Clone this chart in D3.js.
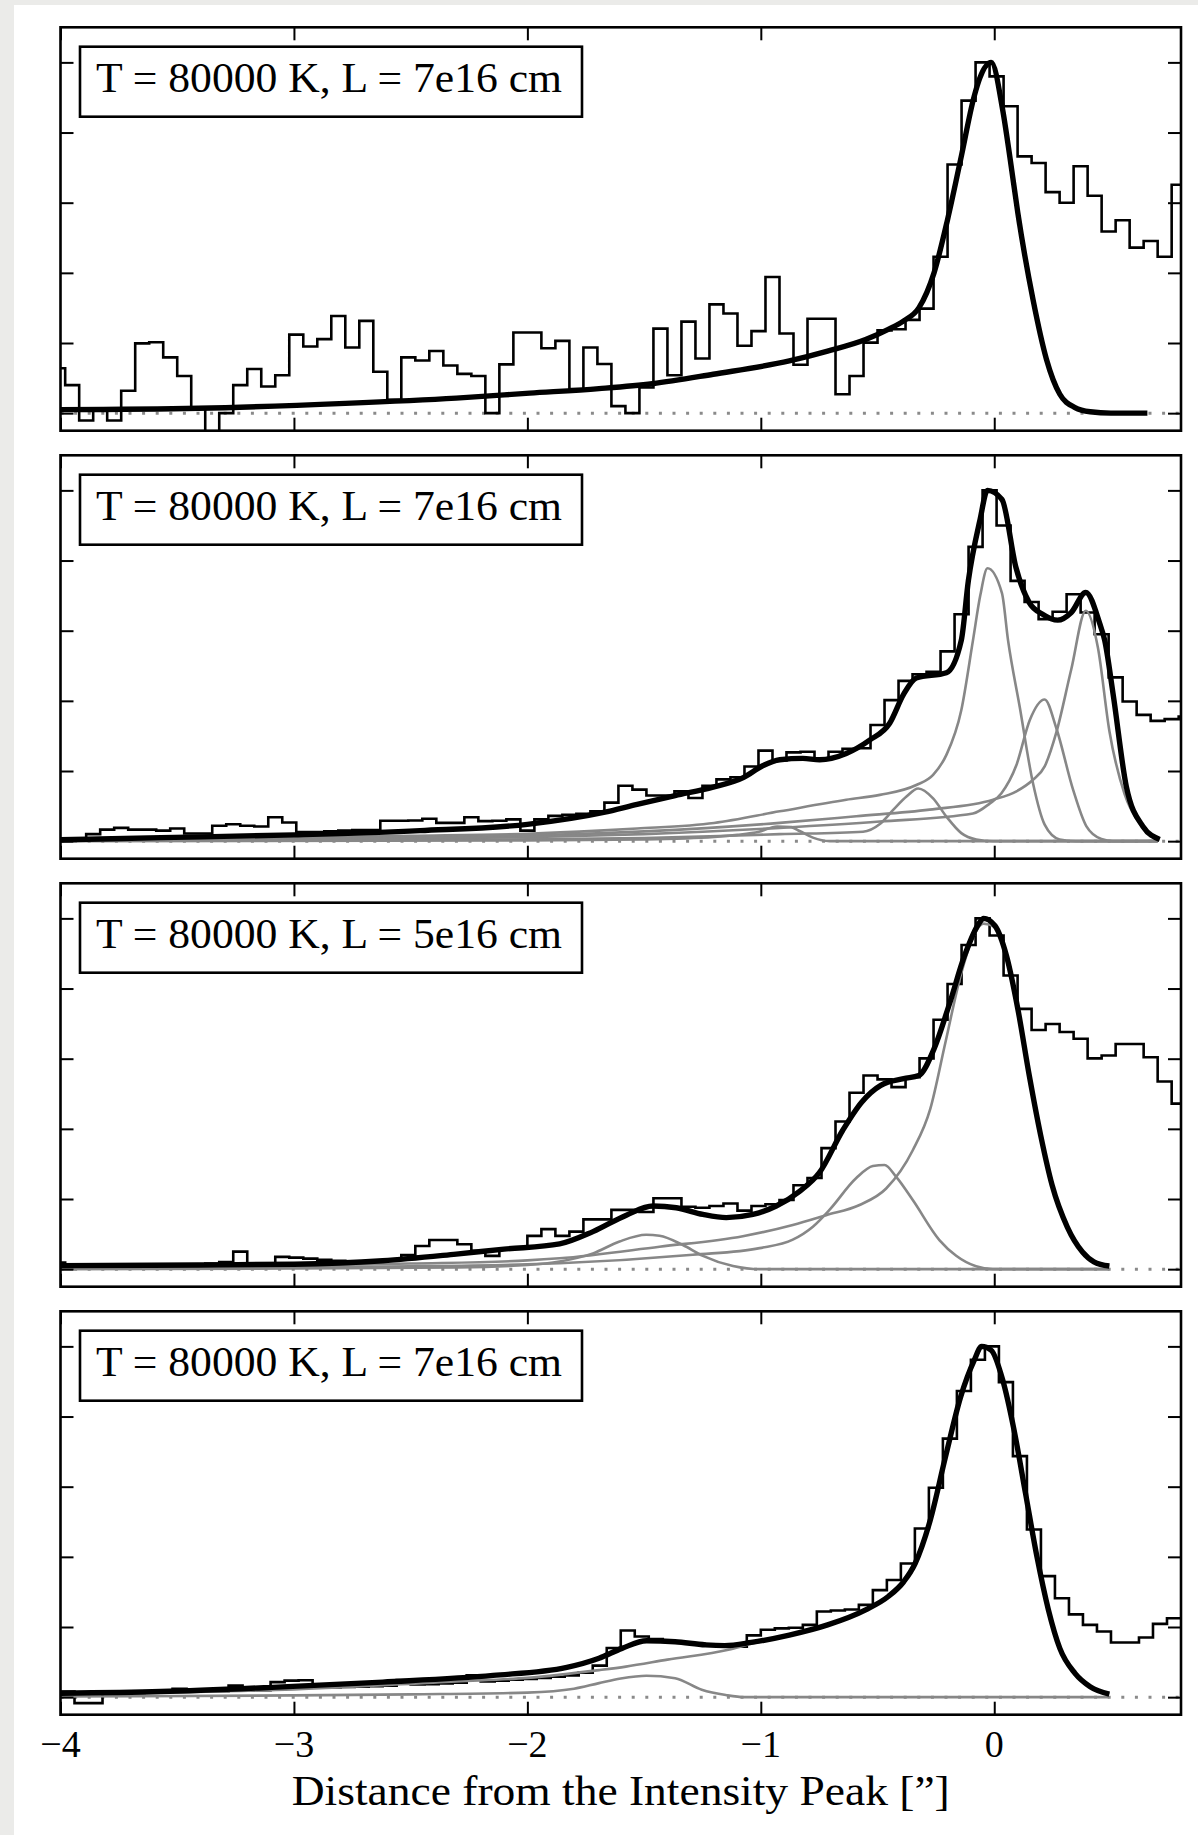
<!DOCTYPE html>
<html>
<head>
<meta charset="utf-8">
<script src="https://cdn.jsdelivr.net/npm/d3@7"></script>
<style>
  html, body { margin: 0; padding: 0; background: #ebebe9; }
  svg { display: block; }
</style>
</head>
<body>
<svg id="fig" width="1198" height="1835"></svg>
<script>
// ---- axis ticks and labels ----
const xTicks = [-4, -3, -2, -1, 0];
const yTicks = [0, 0.2, 0.4, 0.6, 0.8, 1.0];
const panelLabels = [
  "T = 80000 K, L = 7e16 cm",
  "T = 80000 K, L = 7e16 cm",
  "T = 80000 K, L = 5e16 cm",
  "T = 80000 K, L = 7e16 cm"
];
const xLabel = "Distance from the Intensity Peak [\u201d]";

// ---- observed profiles: normalised intensity per 0.06" bin ----
const binWidth = 0.06;
const histStart = [-4.04, -4.01, -4.04, -4.00];

const hist1 = [
  0.128, 0.08, -0.021, 0.014, -0.021, 0.064, 0.199, 0.202, 0.159, 0.106,
  0.014, -0.08, 0.0, 0.08, 0.126, 0.076, 0.108, 0.224, 0.19, 0.211,
  0.277, 0.187, 0.263, 0.118, 0.038, 0.159, 0.150, 0.177, 0.136, 0.112,
  0.106, 0.0, 0.139, 0.230, 0.230, 0.185, 0.206, 0.069, 0.187, 0.14,
  0.02, 0.0, 0.073, 0.241, 0.108, 0.261, 0.156, 0.310, 0.284, 0.192,
  0.234, 0.388, 0.227, 0.138, 0.269, 0.269, 0.054, 0.106, 0.201, 0.236,
  0.239, 0.266, 0.298, 0.446, 0.709, 0.891, 1.0, 0.96, 0.875, 0.732,
  0.713, 0.63, 0.60, 0.704, 0.62, 0.518, 0.55, 0.472, 0.491, 0.446,
  0.651
];

const hist2 = [
  0.005, 0.003, 0.02, 0.033, 0.038, 0.033, 0.033, 0.03, 0.036, 0.022,
  0.022, 0.044, 0.048, 0.044, 0.042, 0.068, 0.053, 0.026, 0.026, 0.028,
  0.03, 0.032, 0.032, 0.058, 0.058, 0.059, 0.064, 0.052, 0.052, 0.068,
  0.057, 0.058, 0.062, 0.03, 0.062, 0.072, 0.075, 0.078, 0.085, 0.11,
  0.158, 0.147, 0.13, 0.13, 0.142, 0.123, 0.158, 0.176, 0.182, 0.213,
  0.258, 0.23, 0.253, 0.255, 0.234, 0.255, 0.263, 0.265, 0.331, 0.402,
  0.457, 0.476, 0.483, 0.541, 0.647, 0.839, 1.0, 0.90, 0.742, 0.682,
  0.633, 0.654, 0.704, 0.652, 0.59, 0.467, 0.398, 0.360, 0.343, 0.348,
  0.355
];

const hist3 = [
  0.019, 0.012, 0.014, 0.01, 0.011, 0.011, 0.011, 0.011, 0.012, 0.012,
  0.014, 0.016, 0.02, 0.05, 0.014, 0.014, 0.035, 0.033, 0.03, 0.027,
  0.024, 0.022, 0.022, 0.025, 0.028, 0.04, 0.066, 0.083, 0.083, 0.071,
  0.052, 0.038, 0.057, 0.062, 0.095, 0.114, 0.095, 0.107, 0.142, 0.142,
  0.169, 0.169, 0.163, 0.202, 0.202, 0.178, 0.175, 0.18, 0.187, 0.167,
  0.18, 0.185, 0.197, 0.239, 0.26, 0.345, 0.421, 0.503, 0.552, 0.541,
  0.519, 0.547, 0.601, 0.711, 0.813, 0.924, 1.0, 0.951, 0.837, 0.742,
  0.682, 0.699, 0.676, 0.657, 0.601, 0.609, 0.642, 0.642, 0.604, 0.535,
  0.472
];

const hist4 = [
  0.016, -0.017, -0.017, 0.01, 0.011, 0.012, 0.013, 0.014, 0.024, 0.016,
  0.017, 0.017, 0.033, 0.019, 0.02, 0.043, 0.047, 0.048, 0.03, 0.028,
  0.029, 0.03, 0.031, 0.033, 0.049, 0.036, 0.037, 0.039, 0.041, 0.062,
  0.045, 0.047, 0.05, 0.052, 0.055, 0.058, 0.062, 0.07, 0.09, 0.14,
  0.19, 0.173, 0.166, 0.158, 0.155, 0.152, 0.15, 0.146, 0.144, 0.176,
  0.192, 0.196, 0.198, 0.206, 0.244, 0.247, 0.25, 0.263, 0.305, 0.334,
  0.381, 0.481, 0.597, 0.737, 0.873, 0.962, 1.0, 0.898, 0.687, 0.478,
  0.345, 0.282, 0.236, 0.206, 0.187, 0.156, 0.156, 0.17, 0.209, 0.225
];

// ---- total model (x in arcsec, normalised intensity) ----
const fit1 = [
  [-4.0, 0.01], [-3.41, 0.014], [-2.78, 0.028], [-2.305, 0.043], [-1.99, 0.057],
  [-1.693, 0.07], [-1.465, 0.084], [-1.204, 0.111], [-0.878, 0.149], [-0.714, 0.177],
  [-0.551, 0.21], [-0.454, 0.239], [-0.388, 0.263], [-0.323, 0.30], [-0.258, 0.40],
  [-0.2, 0.552], [-0.144, 0.723], [-0.086, 0.903], [-0.062, 0.955], [-0.013, 1.0],
  [0.036, 0.865], [0.0685, 0.723], [0.101, 0.571], [0.166, 0.324], [0.2235, 0.154],
  [0.281, 0.054], [0.346, 0.016], [0.411, 0.004], [0.5, 0.0], [0.656, 0.0]
];

const fit2 = [
  [-4.0, 0.004], [-3.57, 0.01], [-3.0, 0.018], [-2.46, 0.03], [-2.0, 0.048],
  [-1.673, 0.082], [-1.53, 0.105], [-1.367, 0.13], [-1.204, 0.154], [-1.073, 0.182],
  [-0.992, 0.215], [-0.919, 0.232], [-0.82, 0.236], [-0.748, 0.232], [-0.634, 0.25],
  [-0.534, 0.288], [-0.448, 0.336], [-0.388, 0.419], [-0.334, 0.465], [-0.205, 0.48],
  [-0.141, 0.573], [-0.111, 0.742], [-0.062, 0.913], [-0.029, 1.0], [0.033, 0.974],
  [0.093, 0.78], [0.15, 0.68], [0.207, 0.647], [0.272, 0.63], [0.33, 0.652],
  [0.392, 0.709], [0.452, 0.62], [0.473, 0.573], [0.509, 0.42], [0.566, 0.155],
  [0.637, 0.042], [0.709, 0.005]
];

const fit3 = [
  [-4.0, 0.01], [-3.41, 0.012], [-3.0, 0.014], [-2.62, 0.024], [-2.305, 0.043],
  [-2.1, 0.057], [-1.862, 0.072], [-1.719, 0.107], [-1.576, 0.154], [-1.462, 0.18],
  [-1.362, 0.175], [-1.248, 0.156], [-1.148, 0.147], [-1.034, 0.156], [-0.934, 0.18],
  [-0.834, 0.222], [-0.749, 0.275], [-0.649, 0.396], [-0.568, 0.476], [-0.486, 0.524],
  [-0.388, 0.543], [-0.323, 0.552], [-0.258, 0.628], [-0.192, 0.756], [-0.127, 0.894],
  [-0.062, 0.989], [-0.046, 1.0], [0.003, 0.979], [0.052, 0.894], [0.101, 0.742],
  [0.15, 0.552], [0.199, 0.381], [0.248, 0.239], [0.313, 0.12], [0.378, 0.049],
  [0.427, 0.021], [0.493, 0.009]
];

const fit4 = [
  [-4.0, 0.011], [-3.57, 0.016], [-3.095, 0.028], [-2.62, 0.043], [-2.147, 0.062],
  [-1.831, 0.085], [-1.693, 0.111], [-1.595, 0.139], [-1.489, 0.161], [-1.367, 0.158],
  [-1.237, 0.149], [-1.155, 0.147], [-1.041, 0.156], [-0.878, 0.177], [-0.714, 0.206],
  [-0.551, 0.249], [-0.454, 0.287], [-0.388, 0.329], [-0.339, 0.381], [-0.274, 0.505],
  [-0.209, 0.685], [-0.144, 0.856], [-0.086, 0.96], [-0.054, 1.0], [-0.013, 0.989],
  [0.036, 0.905], [0.085, 0.761], [0.134, 0.581], [0.183, 0.40], [0.232, 0.249],
  [0.281, 0.139], [0.346, 0.068], [0.411, 0.03], [0.493, 0.009]
];

// ---- individual knot components ----
const comp2a = [
  [-4.0, 0.004], [-3.0, 0.01], [-2.5, 0.015], [-2.0, 0.021], [-1.693, 0.03],
  [-1.53, 0.036], [-1.2, 0.052], [-0.919, 0.085], [-0.634, 0.118], [-0.49, 0.132],
  [-0.334, 0.16], [-0.262, 0.189], [-0.205, 0.246], [-0.141, 0.374], [-0.091, 0.573],
  [-0.06, 0.70], [-0.029, 0.778], [0.033, 0.707], [0.059, 0.573], [0.109, 0.383],
  [0.166, 0.165], [0.216, 0.047], [0.28, 0.005], [0.35, 0.0], [0.70, 0.0]
];
const comp2b = [
  [-4.0, 0.003], [-3.0, 0.008], [-2.0, 0.016], [-1.5, 0.028], [-0.919, 0.052],
  [-0.591, 0.071], [-0.277, 0.09], [-0.005, 0.118], [0.095, 0.142], [0.166, 0.175],
  [0.216, 0.213], [0.266, 0.31], [0.33, 0.49], [0.392, 0.657], [0.444, 0.552],
  [0.493, 0.315], [0.558, 0.135], [0.623, 0.05], [0.688, 0.007], [0.70, 0.0]
];
const comp2c = [
  [-4.0, 0.002], [-3.0, 0.005], [-2.0, 0.011], [-1.5, 0.02], [-0.919, 0.038],
  [-0.49, 0.056], [-0.091, 0.079], [-0.02, 0.107], [0.03, 0.136], [0.095, 0.217],
  [0.152, 0.345], [0.216, 0.404], [0.266, 0.322], [0.338, 0.146], [0.395, 0.042],
  [0.459, 0.006], [0.509, 0.0], [0.70, 0.0]
];
const comp2d = [
  [-4.0, 0.001], [-2.0, 0.005], [-1.5, 0.009], [-0.919, 0.02], [-0.562, 0.027],
  [-0.49, 0.049], [-0.433, 0.089], [-0.376, 0.127], [-0.326, 0.15], [-0.262, 0.122],
  [-0.205, 0.07], [-0.141, 0.023], [-0.077, 0.005], [-0.005, 0.0], [0.70, 0.0]
];
const comp2e = [
  [-4.0, 0.0], [-2.0, 0.002], [-1.5, 0.005], [-1.2, 0.012], [-1.1, 0.018],
  [-1.008, 0.027], [-0.93, 0.042], [-0.87, 0.04], [-0.834, 0.029], [-0.777, 0.01],
  [-0.705, 0.0], [0.70, 0.0]
];

const comp3a = [
  [-4.0, 0.004], [-3.0, 0.01], [-2.5, 0.016], [-2.0, 0.025], [-1.862, 0.031],
  [-1.434, 0.064], [-1.077, 0.094], [-0.863, 0.126], [-0.72, 0.154], [-0.577, 0.183],
  [-0.463, 0.23], [-0.349, 0.339], [-0.274, 0.457], [-0.209, 0.647], [-0.144, 0.837],
  [-0.095, 0.94], [-0.046, 0.985], [0.003, 0.975], [0.052, 0.893], [0.101, 0.742],
  [0.15, 0.552], [0.199, 0.381], [0.248, 0.239], [0.313, 0.12], [0.378, 0.049],
  [0.427, 0.021], [0.493, 0.009]
];
const comp3b = [
  [-4.0, 0.002], [-3.0, 0.005], [-2.5, 0.008], [-2.0, 0.014], [-1.862, 0.017],
  [-1.291, 0.041], [-1.005, 0.06], [-0.863, 0.084], [-0.777, 0.121], [-0.706, 0.169],
  [-0.592, 0.259], [-0.52, 0.294], [-0.47, 0.297], [-0.42, 0.263], [-0.349, 0.197],
  [-0.235, 0.083], [-0.163, 0.038], [-0.078, 0.008], [-0.006, 0.0], [0.493, 0.0]
];
const comp3c = [
  [-4.0, 0.0], [-3.0, 0.002], [-2.3, 0.005], [-2.0, 0.012], [-1.862, 0.022],
  [-1.719, 0.045], [-1.605, 0.079], [-1.491, 0.098], [-1.434, 0.095], [-1.334, 0.069],
  [-1.248, 0.038], [-1.119, 0.009], [-1.005, 0.0], [0.493, 0.0]
];

const comp4a = [
  [-4.0, 0.008], [-3.57, 0.013], [-3.0, 0.022], [-2.305, 0.045], [-2.0, 0.055],
  [-1.693, 0.077], [-1.578, 0.087], [-1.4, 0.107], [-1.139, 0.135], [-1.041, 0.152],
  [-0.878, 0.177], [-0.714, 0.206], [-0.551, 0.249], [-0.454, 0.287], [-0.388, 0.329],
  [-0.339, 0.381], [-0.274, 0.505], [-0.209, 0.685], [-0.144, 0.856], [-0.086, 0.96],
  [-0.054, 1.0], [-0.013, 0.989], [0.036, 0.905], [0.085, 0.761], [0.134, 0.581],
  [0.183, 0.40], [0.232, 0.249], [0.281, 0.139], [0.346, 0.068], [0.411, 0.03],
  [0.493, 0.009]
];
const comp4b = [
  [-4.0, 0.002], [-3.0, 0.005], [-2.5, 0.008], [-2.0, 0.013], [-1.8, 0.024],
  [-1.693, 0.04], [-1.6, 0.053], [-1.49, 0.061], [-1.367, 0.054], [-1.253, 0.021],
  [-1.15, 0.006], [-1.07, 0.0], [0.493, 0.0]
];

// ---- figure assembly ----
const panels = [
  { label: panelLabels[0], start: histStart[0], hist: hist1, fit: fit1, comps: [] },
  { label: panelLabels[1], start: histStart[1], hist: hist2, fit: fit2, comps: [comp2a, comp2b, comp2c, comp2d, comp2e] },
  { label: panelLabels[2], start: histStart[2], hist: hist3, fit: fit3, comps: [comp3a, comp3b, comp3c] },
  { label: panelLabels[3], start: histStart[3], hist: hist4, fit: fit4, comps: [comp4a, comp4b] }
];

const W = 1198, H = 1835;
const svg = d3.select("#fig");
const serif = "'Liberation Serif', 'DejaVu Serif', serif";

svg.append("rect").attr("width", W).attr("height", H).attr("fill", "#ebebe9");
svg.append("rect").attr("x", 14).attr("y", 5).attr("width", W - 14).attr("height", H - 5).attr("fill", "#ffffff");

const plotLeft = 60.5, plotRight = 1181, firstTop = 27.3, plotH = 403.4, step = 428;
const tickLen = 13;

const x = d3.scaleLinear().domain([-4, 0.8]).range([plotLeft, plotRight]);

panels.forEach((p, i) => {
  const top = firstTop + i * step;
  const y = d3.scaleLinear().domain([-0.05, 1.1]).range([top + plotH, top]);
  const g = svg.append("g").attr("class", "panel");

  const clipId = "clip-" + i;
  svg.append("clipPath").attr("id", clipId)
    .append("rect").attr("x", plotLeft).attr("y", top)
    .attr("width", plotRight - plotLeft).attr("height", plotH);

  const plot = g.append("g").attr("clip-path", `url(#${clipId})`);

  // zero level
  plot.append("line")
    .attr("x1", x(-4)).attr("x2", x(0.8))
    .attr("y1", y(0)).attr("y2", y(0))
    .attr("stroke", "#8a8a8a").attr("stroke-width", 3)
    .attr("stroke-dasharray", "3,10.6");

  // observed profile as a step histogram
  const pts = p.hist.map((v, k) => [p.start + k * binWidth, v]);
  pts.push([p.start + p.hist.length * binWidth, p.hist[p.hist.length - 1]]);
  const stepLine = d3.line().x(d => x(d[0])).y(d => y(d[1])).curve(d3.curveStepAfter);
  plot.append("path").attr("d", stepLine(pts))
    .attr("fill", "none").attr("stroke", "#000").attr("stroke-width", 2.6)
    .attr("stroke-linejoin", "miter");

  // components
  const smooth = d3.line().x(d => x(d[0])).y(d => y(d[1])).curve(d3.curveMonotoneX);
  p.comps.forEach(c => {
    plot.append("path").attr("d", smooth(c))
      .attr("fill", "none").attr("stroke", "#878787").attr("stroke-width", 2.6)
      .attr("stroke-linejoin", "round");
  });

  // total model
  plot.append("path").attr("d", smooth(p.fit))
    .attr("fill", "none").attr("stroke", "#000").attr("stroke-width", 5.4)
    .attr("stroke-linejoin", "round").attr("stroke-linecap", "butt");

  // inward ticks on all four sides
  const ax = g.append("g").attr("class", "ticks");
  ax.append("g").attr("transform", `translate(0,${top + plotH})`)
    .call(d3.axisBottom(x).tickValues(xTicks).tickSize(-tickLen).tickFormat(""));
  ax.append("g").attr("transform", `translate(0,${top})`)
    .call(d3.axisTop(x).tickValues(xTicks).tickSize(-tickLen).tickFormat(""));
  ax.append("g").attr("transform", `translate(${plotLeft},0)`)
    .call(d3.axisLeft(y).tickValues(yTicks).tickSize(-tickLen).tickFormat(""));
  ax.append("g").attr("transform", `translate(${plotRight},0)`)
    .call(d3.axisRight(y).tickValues(yTicks).tickSize(-tickLen).tickFormat(""));
  ax.selectAll(".domain").remove();
  ax.selectAll(".tick line").attr("stroke", "#000").attr("stroke-width", 2);

  // frame
  g.append("rect")
    .attr("x", plotLeft).attr("y", top)
    .attr("width", plotRight - plotLeft).attr("height", plotH)
    .attr("fill", "none").attr("stroke", "#000").attr("stroke-width", 2.6);

  // parameter box
  const lg = g.append("g").attr("transform", `translate(${plotLeft + 19.5},${top + 19.4})`);
  lg.append("rect").attr("width", 502).attr("height", 70)
    .attr("fill", "#fff").attr("stroke", "#000").attr("stroke-width", 2.6);
  lg.append("text").attr("x", 16).attr("y", 45)
    .attr("font-family", serif).attr("font-size", 42)
    .attr("textLength", 466).attr("lengthAdjust", "spacingAndGlyphs")
    .attr("fill", "#000").text(p.label);

  // tick labels and axis title under the last panel
  if (i === panels.length - 1) {
    const fmt = d3.format("d");
    g.selectAll("text.xtick").data(xTicks).enter().append("text")
      .attr("class", "xtick")
      .attr("x", d => x(d)).attr("y", top + plotH + 42)
      .attr("text-anchor", "middle")
      .attr("font-family", serif).attr("font-size", 38)
      .attr("fill", "#000")
      .text(d => fmt(d));
    g.append("text")
      .attr("x", (plotLeft + plotRight) / 2).attr("y", top + plotH + 90)
      .attr("text-anchor", "middle")
      .attr("font-family", serif).attr("font-size", 42)
      .attr("textLength", 658).attr("lengthAdjust", "spacingAndGlyphs")
      .attr("fill", "#000").text(xLabel);
  }
});
</script>
</body>
</html>
